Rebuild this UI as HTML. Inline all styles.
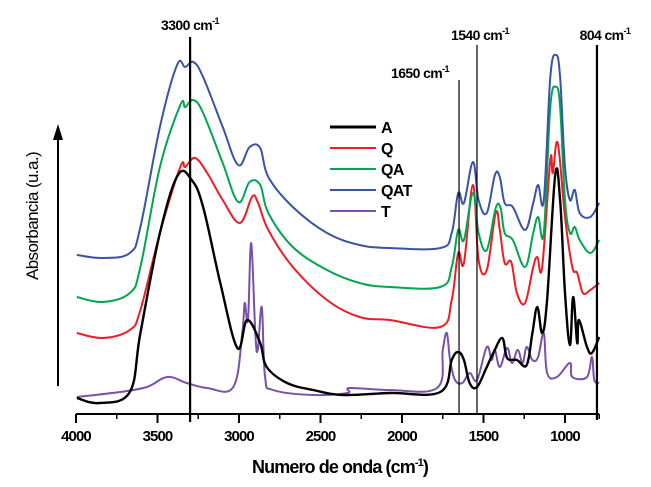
<!DOCTYPE html>
<html><head><meta charset="utf-8"><style>
html,body{margin:0;padding:0;background:#fff;}
svg{display:block;font-family:"Liberation Sans",Arial,sans-serif;}
</style></head><body>
<svg id="chart" width="651" height="487" viewBox="0 0 651 487" xmlns="http://www.w3.org/2000/svg"></svg>
<script>
const xTicks = [4000,3500,3000,2500,2000,1500,1000];
const xMinor = [3750,3250,2750,2250,1750,1250,790];
const seriesNames = ["A","Q","QA","QAT","T"];
const seriesColors = ["#000000","#ee1c25","#00a650","#3a53a4","#7851a9"];

const wnQAT = [3995,3835,3670,3605,3485,3380,3330,3280,3220,3100,3005,2935,2870,2820,2670,2460,2260,2075,1765,1695,1655,1620,1565,1530,1480,1430,1400,1370,1320,1245,1195,1165,1130,1090,1055,1030,1000,970,940,910,845,790];
const absQAT = [1.59,1.56,1.61,1.87,2.87,3.49,3.47,3.52,3.37,2.87,2.49,2.67,2.66,2.37,2.07,1.81,1.69,1.66,1.66,1.81,2.21,2.11,2.52,2.14,2.01,2.39,2.37,2.11,2.07,1.84,2.11,2.29,2.14,3.37,3.59,3.37,2.47,2.14,2.24,2.01,1.97,2.11];

const wnQA = [3995,3835,3670,3605,3485,3360,3330,3280,3220,3100,3005,2935,2870,2820,2670,2460,2260,2075,1765,1695,1655,1620,1565,1530,1480,1425,1395,1370,1320,1245,1195,1165,1130,1090,1055,1030,1000,970,940,910,845,790];
const absQA = [1.17,1.12,1.21,1.47,2.47,3.09,3.07,3.14,3.01,2.51,2.12,2.32,2.29,2.01,1.67,1.44,1.31,1.27,1.27,1.47,1.84,1.74,2.21,1.81,1.64,2.06,2.06,1.81,1.74,1.47,1.81,1.97,1.81,3.07,3.27,3.07,2.14,1.81,1.87,1.74,1.61,1.74];

const wnQ = [3995,3835,3670,3605,3485,3360,3330,3270,3195,3100,2995,2920,2885,2820,2670,2460,2260,2075,1765,1695,1655,1620,1565,1530,1480,1425,1400,1370,1330,1295,1245,1195,1170,1140,1090,1075,1045,1000,955,925,890,845,790];
const absQ = [0.81,0.76,0.84,1.04,1.81,2.47,2.47,2.56,2.41,2.14,1.91,2.17,2.12,1.84,1.47,1.14,0.97,0.94,0.87,1.14,1.61,1.51,2.29,1.54,1.44,2.01,1.84,1.51,1.52,1.21,1.11,1.47,1.57,1.47,2.54,2.41,2.71,1.97,1.47,1.41,1.21,1.24,1.31];

const wnA = [3995,3855,3670,3605,3485,3375,3290,3220,3115,3010,2950,2870,2830,2705,2545,2360,2075,1765,1695,1655,1620,1585,1540,1480,1440,1385,1355,1295,1235,1200,1170,1140,1110,1060,1030,1000,970,950,925,915,865,835,790];
const absA = [0.16,0.11,0.22,0.81,1.81,2.39,2.34,2.07,1.31,0.66,0.94,0.71,0.47,0.31,0.24,0.19,0.21,0.22,0.54,0.62,0.54,0.31,0.27,0.47,0.61,0.76,0.56,0.54,0.49,0.81,1.07,0.81,1.14,2.39,2.14,1.21,0.69,1.17,0.71,0.94,0.67,0.61,0.77];

const wnT = [3995,3730,3565,3440,3320,3195,3035,2980,2965,2945,2925,2900,2885,2860,2840,2790,2545,2335,2320,2075,1785,1750,1725,1705,1675,1630,1585,1540,1480,1450,1430,1400,1355,1325,1290,1260,1235,1200,1165,1130,1110,1050,970,955,865,835,820,790];
const absT = [0.17,0.22,0.27,0.37,0.31,0.26,0.27,0.81,1.11,0.94,1.71,0.81,0.64,1.07,0.37,0.24,0.19,0.21,0.26,0.24,0.26,0.64,0.81,0.54,0.34,0.31,0.41,0.34,0.67,0.54,0.64,0.47,0.66,0.51,0.64,0.51,0.67,0.54,0.57,0.81,0.41,0.37,0.51,0.37,0.37,0.57,0.34,0.31];

const markers = [3300,1650,1540,804];
const markerLabels = ["3300 cm","1650 cm","1540 cm","804 cm"];

const NS = "http://www.w3.org/2000/svg";
const svg = document.getElementById("chart");
function xS(w){ return 76 + (4000 - w) * 0.163; }
function yS(v){ return 414 - v * 100; }
function mk(tag, attrs, parent){
  const e = document.createElementNS(NS, tag);
  for (const k in attrs) e.setAttribute(k, attrs[k]);
  (parent || svg).appendChild(e);
  return e;
}
function smooth(pts){
  let d = "M" + pts[0][0].toFixed(1) + "," + pts[0][1].toFixed(1);
  const t = 0.18;
  for (let i = 0; i < pts.length - 1; i++){
    const p0 = pts[Math.max(0, i-1)], p1 = pts[i], p2 = pts[i+1], p3 = pts[Math.min(pts.length-1, i+2)];
    const c1x = p1[0] + (p2[0]-p0[0])*t, c1y = p1[1] + (p2[1]-p0[1])*t;
    const c2x = p2[0] - (p3[0]-p1[0])*t, c2y = p2[1] - (p3[1]-p1[1])*t;
    d += " C" + c1x.toFixed(1) + "," + c1y.toFixed(1) + " " + c2x.toFixed(1) + "," + c2y.toFixed(1) + " " + p2[0].toFixed(1) + "," + p2[1].toFixed(1);
  }
  return d;
}

const allWn = [wnA, wnQ, wnQA, wnQAT, wnT];
const allAbs = [absA, absQ, absQA, absQAT, absT];
const drawOrder = [4,1,2,3,0];
drawOrder.forEach(i => {
  const pts = allWn[i].map((w, j) => [xS(w), yS(allAbs[i][j])]);
  const p = mk("path", {d: smooth(pts), fill: "none", stroke: seriesColors[i], "stroke-width": i === 0 ? 2.4 : 2, "stroke-linejoin": "round"});
  
  
});

const mTop = [37, 80, 45, 45];
const mW = [2.2, 1.2, 1.2, 2.2];
const mBot = [422, 414, 414, 420];
markers.forEach((m, i) => {
  const l = mk("line", {x1: xS(m), x2: xS(m), y1: mTop[i], y2: mBot[i], stroke: "#000", "stroke-width": mW[i]});
  
  
});
const lblX = [190, 420, 480, 605];
const lblY = [30, 78, 40, 40];
markers.forEach((m, i) => {
  const t = mk("text", {x: lblX[i], y: lblY[i], "text-anchor": "middle", "font-size": 14, "font-weight": "bold", "letter-spacing": "-0.6"});
  t.textContent = markerLabels[i];
  const s = mk("tspan", {"font-size": 9, dy: -6}, t);
  s.textContent = "-1";
  
  
});

const ax = mk("line", {x1: 76, x2: 599, y1: 414, y2: 414, stroke: "#000", "stroke-width": 2});


xTicks.forEach(t => {
  const l = mk("line", {x1: xS(t), x2: xS(t), y1: 414, y2: 423, stroke: "#000", "stroke-width": 2});
  
  
  const tx = mk("text", {x: xS(t), y: 441, "text-anchor": "middle", "font-size": 15, "font-weight": "bold", "letter-spacing": "-0.9"});
  tx.textContent = t;
  
  
});
xMinor.forEach(t => {
  const l = mk("line", {x1: xS(t), x2: xS(t), y1: 414, y2: 419, stroke: "#000", "stroke-width": 1.5});
  
  
});
const xt = mk("text", {x: 340, y: 473, "text-anchor": "middle", "font-size": 18, "font-weight": "bold", "letter-spacing": "-0.9"});
xt.textContent = "Numero de onda (cm";
const xs = mk("tspan", {"font-size": 11, dy: -7}, xt); xs.textContent = "-1";
const xs2 = mk("tspan", {dy: 7}, xt); xs2.textContent = ")";



const ar = mk("line", {x1: 58, x2: 58, y1: 386, y2: 138, stroke: "#000", "stroke-width": 2});


const ah = mk("polygon", {points: "58,124 53,140 63,140", fill: "#000"});


const yt = mk("text", {x: 0, y: 0, transform: "translate(38,216) rotate(-90)", "text-anchor": "middle", "font-size": 17, "letter-spacing": "-0.6"});
yt.textContent = "Absorbancia (u.a.)";



const legY = [127, 148, 169, 190, 211];
seriesNames.forEach((n, i) => {
  const l = mk("line", {x1: 330, x2: 376, y1: legY[i], y2: legY[i], stroke: seriesColors[i], "stroke-width": i === 0 ? 3 : 2});
  
  
  const t = mk("text", {x: 381, y: legY[i] + 6, "font-size": 16, "font-weight": "bold", "letter-spacing": "-0.6"});
  t.textContent = n;
  
  
});
</script>
</body></html>
